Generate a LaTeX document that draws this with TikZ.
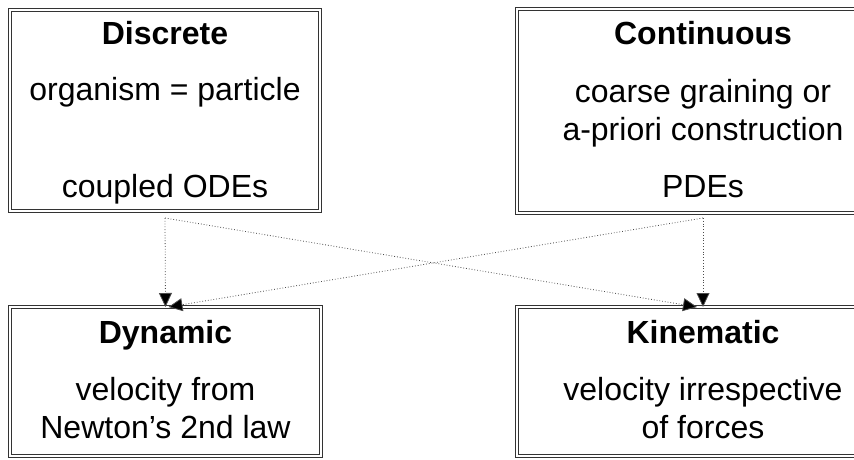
\documentclass[tikz,border=0pt]{standalone}
\usepackage{fontspec}
\setmainfont{Liberation Sans}
\usetikzlibrary{arrows.meta}
\begin{document}
\begin{tikzpicture}[x=1pt,y=-1pt,
  box/.style={draw=black!80, line width=1.8pt, double=white, double distance=1.3pt,
    rectangle, inner sep=0pt, outer sep=0pt},
  title/.style={anchor=base, inner sep=0pt, font=\fontsize{32}{38}\selectfont\bfseries},
  body/.style={anchor=base, inner sep=0pt, font=\fontsize{32}{38}\selectfont},
  link/.style={draw=black!70, line width=0.8pt, dotted,
    -{Triangle[length=14pt,width=13pt,fill=black]}}]
\useasboundingbox (0,0) rectangle (854,460);
\clip (0,0) rectangle (854,460);

% boxes
\node[box, minimum width=310pt, minimum height=201pt] (disc) at (165,110.5) {};
\node[box, minimum width=372pt, minimum height=204pt] (cont) at (703,111) {};
\node[box, minimum width=311pt, minimum height=149pt] (dyn) at (165.5,381.5) {};
\node[box, minimum width=372pt, minimum height=149pt] (kin) at (703,381.5) {};

% Discrete
\node[title] (discT) at (165,45) {Discrete};
\node[body] (discA) at (165,100) {organism = particle};
\node[body] (discB) at (165,197) {coupled ODEs};

% Continuous
\node[title] (contT) at (703,45) {Continuous};
\node[body] (contA) at (703,102) {coarse graining or};
\node[body] (contB) at (703,140) {a-priori construction};
\node[body] (contC) at (703,197) {PDEs};

% Dynamic
\node[title] (dynT) at (165.5,343) {Dynamic};
\node[body] (dynA) at (165.5,400) {velocity from};
\node[body] (dynB) at (165.5,438) {Newton’s 2nd law};

% Kinematic
\node[title] (kinT) at (703,343) {Kinematic};
\node[body] (kinA) at (703,400) {velocity irrespective};
\node[body] (kinB) at (703,438) {of forces};

% connector ends
\coordinate (discOut) at ([yshift=-7pt]disc.south);
\coordinate (contOut) at ([yshift=-5pt]cont.south);

\draw[link] (discOut) -- (dyn.north);
\draw[link] (discOut) -- ([xshift=-6pt]kin.north);
\draw[link] (contOut) -- (kin.north);
\draw[link] (contOut) -- ([xshift=3pt]dyn.north);
\end{tikzpicture}
\end{document}
